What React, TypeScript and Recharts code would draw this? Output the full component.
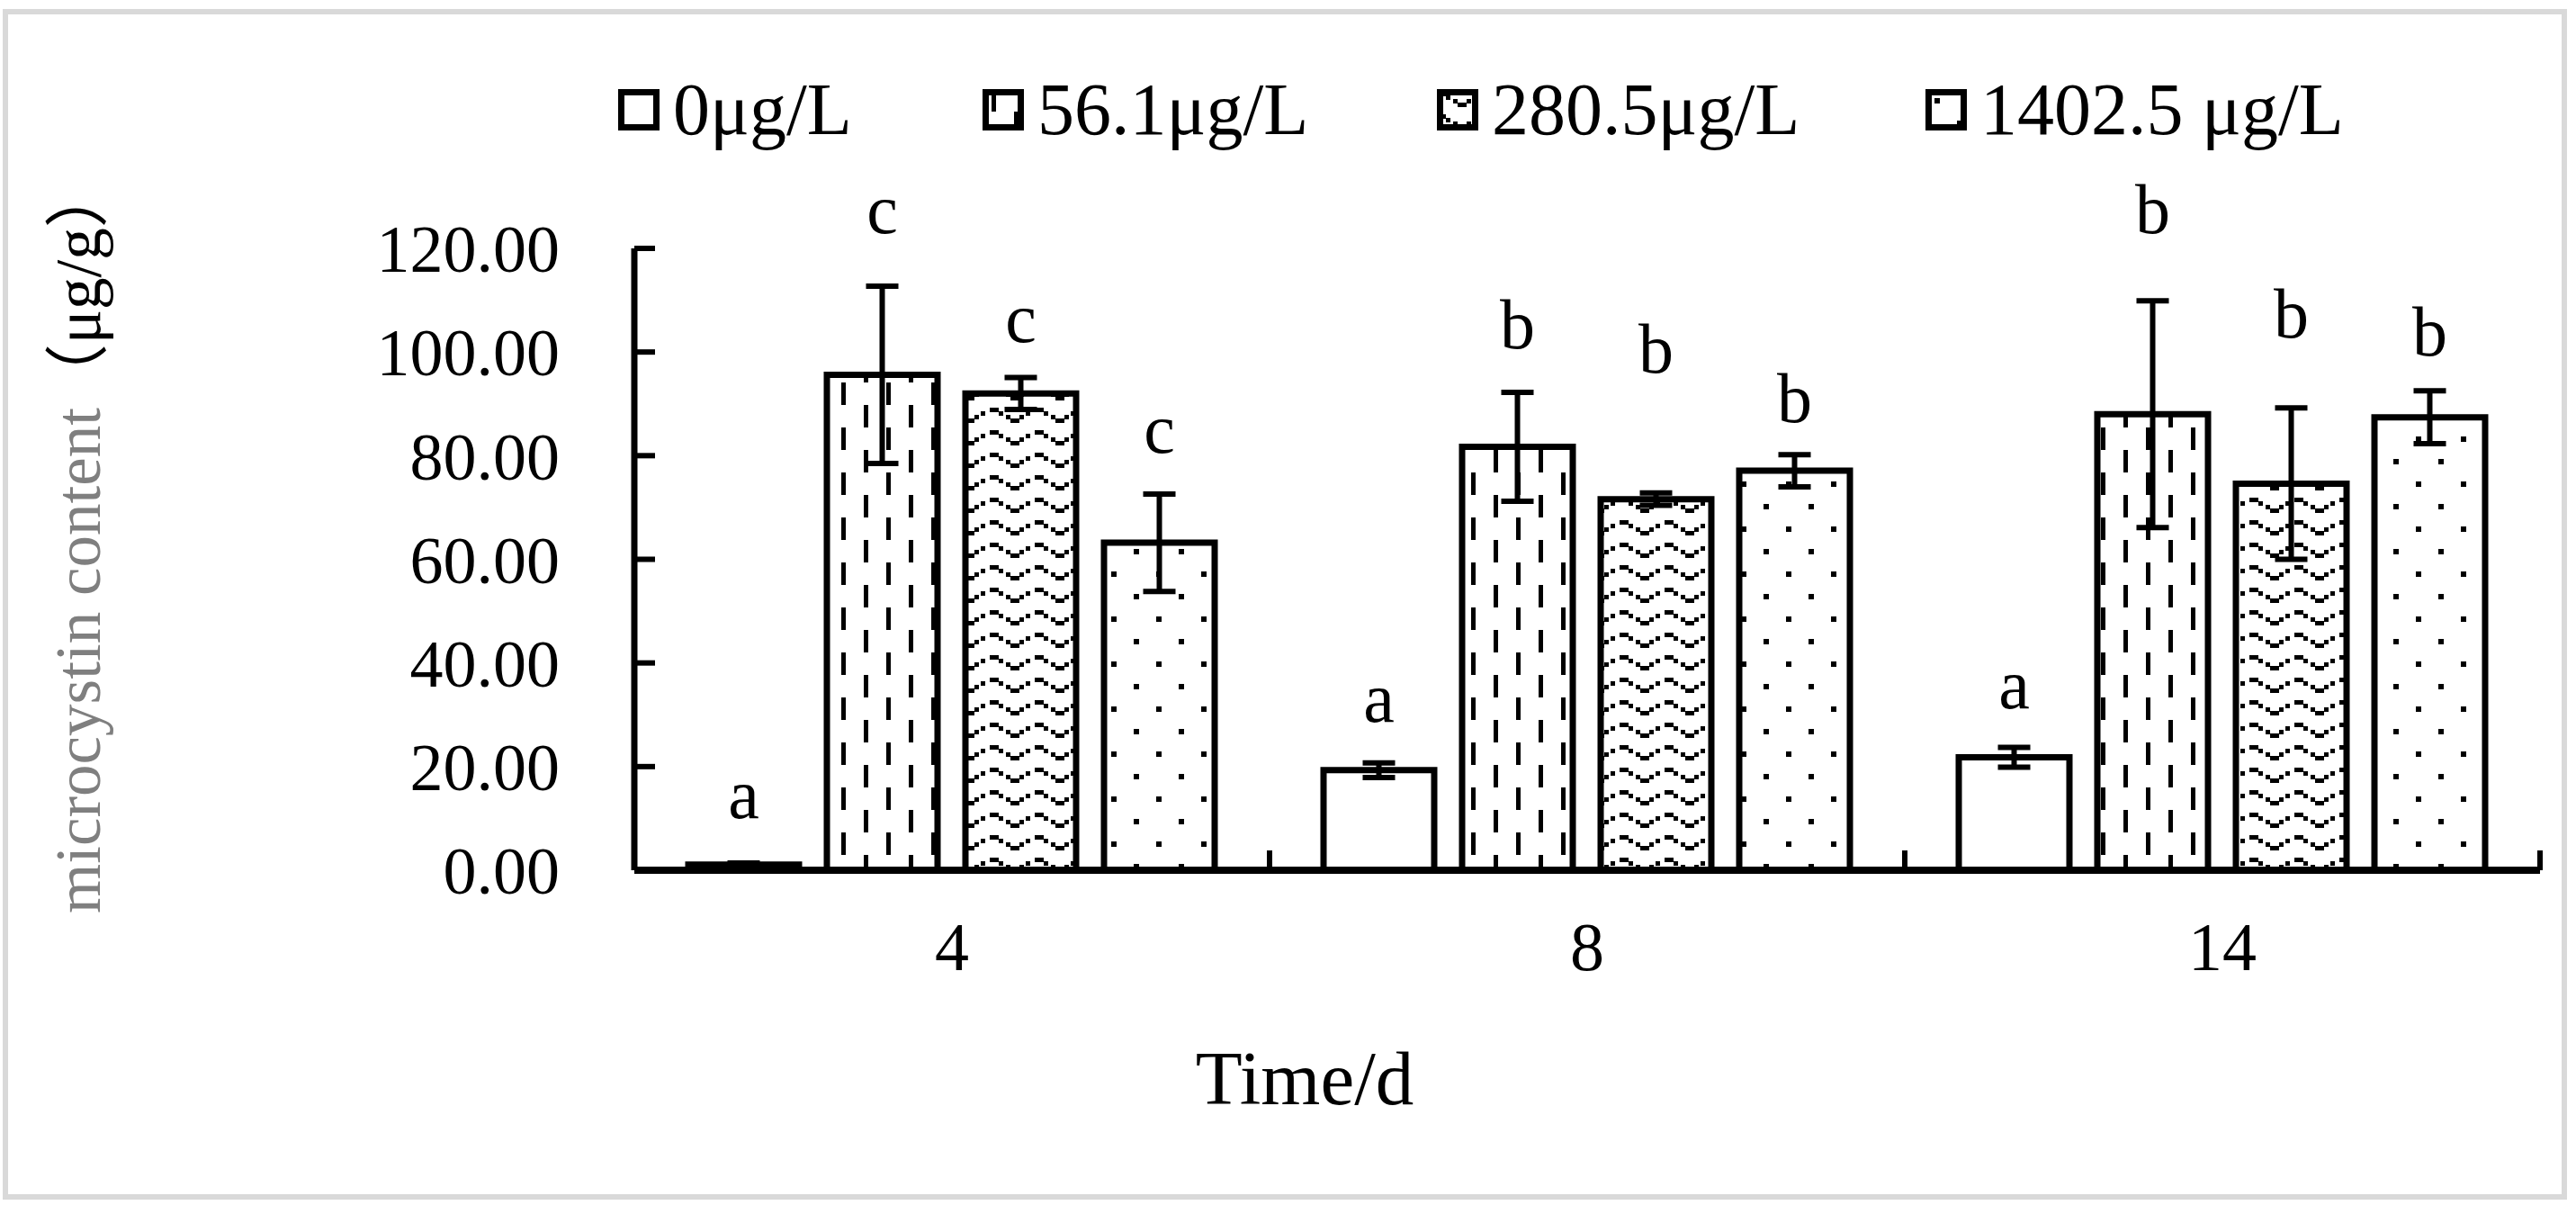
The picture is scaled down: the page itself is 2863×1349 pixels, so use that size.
import React from 'react';
import { BarChart, Bar, XAxis, YAxis, ErrorBar, LabelList, Legend, Label } from 'recharts';

// ---------- data ----------
const categories = ['4', '8', '14'];
const seriesNames = ['0μg/L', '56.1μg/L', '280.5μg/L', '1402.5 μg/L'];
const yTicks = [0, 20, 40, 60, 80, 100, 120];

const mean0 = [1.1, 19.3, 21.8];
const sd0 = [0.3, 1.4, 1.9];
const mean56 = [95.6, 81.7, 88.0];
const sd56 = [17.1, 10.5, 21.9];
const mean280 = [92.0, 71.6, 74.6];
const sd280 = [3.1, 1.2, 14.6];
const mean1402 = [63.2, 77.1, 87.4];
const sd1402 = [9.4, 3.1, 5.1];

const letters0 = ['a', 'a', 'a'];
const letters56 = ['c', 'b', 'b'];
const letters280 = ['c', 'b', 'b'];
const letters1402 = ['c', 'b', 'b'];
// height (μg/g) of the baseline of each significance letter
const letterAt0 = [10.1, 28.6, 31.2];
const letterAt56 = [123.0, 100.8, 123.0];
const letterAt280 = [101.9, 96.1, 102.8];
const letterAt1402 = [80.6, 86.4, 99.3];

const data = categories.map((day, i) => ({
  day,
  m0: mean0[i], s0: sd0[i],
  m56: mean56[i], s56: sd56[i],
  m280: mean280[i], s280: sd280[i],
  m1402: mean1402[i], s1402: sd1402[i],
}));

// ---------- styles ----------
const FONT = "'Liberation Serif', 'Times New Roman', 'Noto Sans CJK SC', serif";
const fills = ['#ffffff', 'url(#pDash)', 'url(#pWave)', 'url(#pDot)'];
const legendLefts = [687, 1092, 1597, 2140];
const X_TICK_MARGIN = 57;

const makeLetter = (letters: string[], at: number[], means: number[]) => (props: any) => {
  const vb = props.viewBox && props.viewBox.width !== undefined ? props.viewBox : props;
  const x = Number(vb.x), y = Number(vb.y), w = Number(vb.width), h = Number(vb.height);
  const idx = props.index;
  if (idx === undefined || !isFinite(x)) return null;
  const base = y + h;
  const perUnit = h / means[idx];
  const ly = base - at[idx] * perUnit;
  return (
    <text x={x + w / 2} y={ly} textAnchor="middle" fontSize={78} fontFamily={FONT} fill="#000">
      {letters[idx]}
    </text>
  );
};

// category label plus the inward boundary tick at the right edge of each category band
const renderXTick = (props: any) => {
  const { x, y, payload } = props;
  const half = payload && typeof payload.offset === 'number' ? payload.offset : 0;
  const axisY = y - X_TICK_MARGIN;
  return (
    <g>
      <text x={x} y={y} dy="0.71em" textAnchor="middle" fontSize={76} fontFamily={FONT} fill="#000">
        {payload.value}
      </text>
      {half > 0 && (
        <line x1={x + half} x2={x + half} y1={axisY} y2={axisY - 22} stroke="#000" strokeWidth={6} />
      )}
    </g>
  );
};

const renderLegend = () => (
  <div style={{ position: 'relative', width: 2863, height: 82 }}>
    {seriesNames.map((n, i) => (
      <div key={n} style={{ position: 'absolute', left: legendLefts[i], top: 0, height: 82, display: 'flex', alignItems: 'center', whiteSpace: 'nowrap' }}>
        <svg width={46} height={46} style={{ display: 'block', marginRight: 15 }}>
          <rect x={3.5} y={3.5} width={39} height={39} fill={fills[i]} stroke="#000" strokeWidth={7} />
        </svg>
        <span style={{ fontFamily: FONT, fontSize: 82, lineHeight: '82px', color: '#000' }}>{n}</span>
      </div>
    ))}
  </div>
);

const renderYLabel = () => (
  <text x={111} y={1015} transform="rotate(-90, 111, 1015)" fontSize={71} fontFamily={FONT} textAnchor="start">
    <tspan fill="#7f7f7f">microcystin content</tspan>
    <tspan fill="#000">（μg/g）</tspan>
  </text>
);

const renderXLabel = () => (
  <text x={1450} y={1227} textAnchor="middle" fontSize={85} fontFamily={FONT} fill="#000">Time/d</text>
);

export default function App() {
  return (
    <div style={{ position: 'absolute', left: 0, top: 0, width: 2863, height: 1349, background: '#fff' }}>
      <BarChart
        width={2863}
        height={1349}
        data={data}
        margin={{ top: 276, right: 40, bottom: 232, left: 505 }}
        barCategoryGap={60}
        barGap={31}
      >
        <defs>
          <pattern id="pDash" patternUnits="userSpaceOnUse" width={50} height={50}>
            <rect width={50} height={50} fill="#fff" />
            <rect x={10} y={0} width={5} height={25} fill="#000" />
            <rect x={35} y={25} width={5} height={25} fill="#000" />
          </pattern>
          <pattern id="pWave" patternUnits="userSpaceOnUse" width={50} height={25}>
            <rect width={50} height={25} fill="#fff" />
            <rect x={0} y={3} width={10} height={5} fill="#000" />
            <rect x={10} y={7} width={5} height={5} fill="#000" />
            <rect x={18} y={11} width={5} height={5} fill="#000" />
            <rect x={23} y={15} width={10} height={5} fill="#000" />
            <rect x={33} y={11} width={5} height={5} fill="#000" />
            <rect x={40} y={7} width={5} height={5} fill="#000" />
          </pattern>
          <pattern id="pDot" patternUnits="userSpaceOnUse" width={50} height={50}>
            <rect width={50} height={50} fill="#fff" />
            <rect x={10} y={10} width={6} height={6} fill="#000" />
            <rect x={35} y={35} width={6} height={6} fill="#000" />
          </pattern>
        </defs>
        <XAxis
          dataKey="day"
          tickLine={false}
          axisLine={{ stroke: '#000', strokeWidth: 8 }}
          tick={renderXTick}
          tickSize={0}
          tickMargin={X_TICK_MARGIN}
          height={150}
        >
          <Label content={renderXLabel} />
        </XAxis>
        <YAxis
          domain={[0, 120]}
          ticks={yTicks}
          interval={0}
          tickFormatter={(v: number) => v.toFixed(2)}
          axisLine={{ stroke: '#000', strokeWidth: 7 }}
          tickLine={{ stroke: '#000', strokeWidth: 6 }}
          tickSize={-23}
          tickMargin={106}
          tick={{ fontSize: 74, fill: '#000', fontFamily: FONT }}
          width={200}
        >
          <Label content={renderYLabel} />
        </YAxis>
        <Legend
          layout="horizontal"
          verticalAlign="middle"
          align="center"
          content={renderLegend}
          wrapperStyle={{ top: 81, left: 0, width: 2863, height: 82 }}
        />
        <Bar dataKey="m0" name={seriesNames[0]} fill={fills[0]} stroke="#000" strokeWidth={7} isAnimationActive={false}>
          <ErrorBar dataKey="s0" width={18} stroke="#000" strokeWidth={6} direction="y" />
          <LabelList dataKey="m0" content={makeLetter(letters0, letterAt0, mean0)} />
        </Bar>
        <Bar dataKey="m56" name={seriesNames[1]} fill={fills[1]} stroke="#000" strokeWidth={7} isAnimationActive={false}>
          <ErrorBar dataKey="s56" width={18} stroke="#000" strokeWidth={6} direction="y" />
          <LabelList dataKey="m56" content={makeLetter(letters56, letterAt56, mean56)} />
        </Bar>
        <Bar dataKey="m280" name={seriesNames[2]} fill={fills[2]} stroke="#000" strokeWidth={7} isAnimationActive={false}>
          <ErrorBar dataKey="s280" width={18} stroke="#000" strokeWidth={6} direction="y" />
          <LabelList dataKey="m280" content={makeLetter(letters280, letterAt280, mean280)} />
        </Bar>
        <Bar dataKey="m1402" name={seriesNames[3]} fill={fills[3]} stroke="#000" strokeWidth={7} isAnimationActive={false}>
          <ErrorBar dataKey="s1402" width={18} stroke="#000" strokeWidth={6} direction="y" />
          <LabelList dataKey="m1402" content={makeLetter(letters1402, letterAt1402, mean1402)} />
        </Bar>
      </BarChart>
      <div
        style={{
          position: 'absolute', left: 3, top: 10, width: 2850, height: 1323,
          border: '6px solid #d9d9d9', boxSizing: 'border-box', pointerEvents: 'none',
        }}
      />
    </div>
  );
}
